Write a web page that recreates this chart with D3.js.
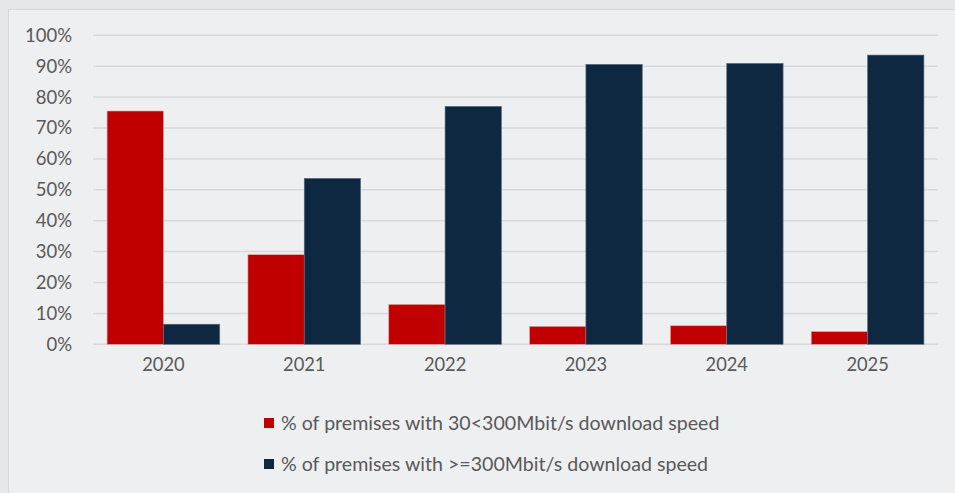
<!DOCTYPE html>
<html><head><meta charset="utf-8">
<script src="https://cdn.jsdelivr.net/npm/d3@7"></script>
<style>
html,body{margin:0;padding:0;background:#e6e7e9;}
svg{display:block;}
</style></head>
<body><svg id="c" width="955" height="493"></svg>
<script>
const categories = ["2020","2021","2022","2023","2024","2025"];
const seriesNames = ["% of premises with 30<300Mbit/s download speed","% of premises with >=300Mbit/s download speed"];
const seriesMid = [75.5, 29.0, 12.9, 5.8, 6.0, 4.1];
const seriesHigh = [6.5, 53.7, 77.0, 90.6, 90.9, 93.6];
const yTicks = [0,10,20,30,40,50,60,70,80,90,100];
const colors = ["#c00000","#0f2841"];
const FONT = "Lato, sans-serif";

const svg = d3.select("#c");
svg.append("rect").attr("x",8.5).attr("y",9.5).attr("width",955).attr("height",493)
  .attr("fill","#eeeff1").attr("stroke","#d6d7d9").attr("stroke-width",1);

const L=93, R=938, T=35.3, B=344.3;
const x = d3.scaleBand().domain(categories).range([L,R]).paddingInner(0.2).paddingOuter(0.1);
const xs = d3.scaleBand().domain([0,1]).range([0,x.bandwidth()]);
const y = d3.scaleLinear().domain([0,100]).range([B,T]);

const grid = svg.append("g");
grid.selectAll("line").data(yTicks).join("line")
  .attr("x1",L).attr("x2",R).attr("y1",d=>y(d)).attr("y2",d=>y(d))
  .attr("stroke","#d9d9d9").attr("stroke-width",1.5);

const yAxis = svg.append("g").attr("transform",`translate(${L},0)`)
  .call(d3.axisLeft(y).tickValues(yTicks).tickFormat(d=>d+"%").tickSize(0).tickPadding(21));
yAxis.select(".domain").remove();
yAxis.selectAll("text").attr("fill","#595959").style("font-family",FONT).style("font-size","18.5px");

const data = categories.map((c,i)=>({c, v:[seriesMid[i], seriesHigh[i]]}));
const g = svg.append("g");
data.forEach(d=>{
  d.v.forEach((v,k)=>{
    g.append("rect").attr("x",x(d.c)+xs(k)).attr("width",xs.bandwidth())
      .attr("y",y(v)).attr("height",y(0)-y(v)).attr("fill",colors[k])
      .attr("stroke",k===0?"#e8a0a0":"#5a6b80").attr("stroke-width",0.6);
  });
});

const xAxis = svg.append("g").attr("transform",`translate(0,${B})`)
  .call(d3.axisBottom(x).tickSize(0).tickPadding(14));
xAxis.select(".domain").remove();
xAxis.selectAll("text").attr("fill","#595959").style("font-family",FONT).style("font-size","18.3px");

const leg = svg.append("g");
seriesNames.forEach((n,i)=>{
  const yy = 423 + i*41;
  leg.append("rect").attr("x",264).attr("y",yy-5).attr("width",10).attr("height",10).attr("fill",colors[i]);
  leg.append("text").attr("x",281).attr("y",yy).attr("dy","0.35em").text(n)
    .attr("fill","#595959").style("font-family",FONT).style("font-size","19.6px");
});
</script></body></html>
